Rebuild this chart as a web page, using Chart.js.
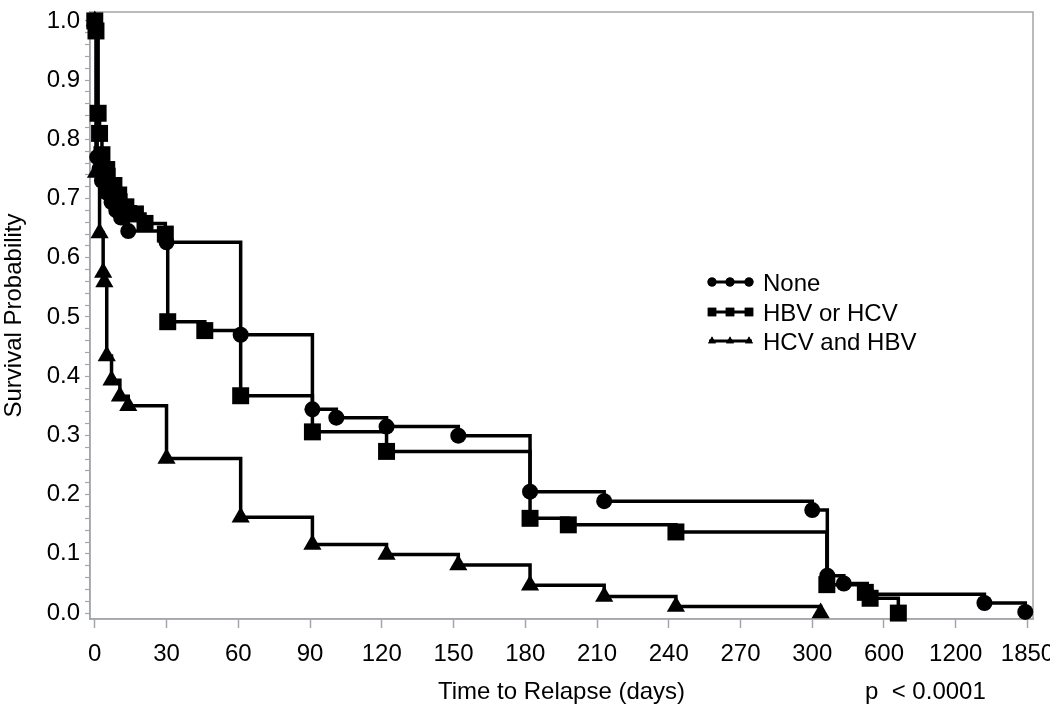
<!DOCTYPE html>
<html>
<head>
<meta charset="utf-8">
<script src="https://cdn.jsdelivr.net/npm/chart.js@4/dist/chart.umd.min.js"></script>
<style>
  html, body { margin: 0; padding: 0; background: #fff; }
  #wrap { width: 1050px; height: 721px; position: relative; }
</style>
</head>
<body>
<div id="wrap"><canvas id="c" width="1050" height="721"></canvas></div>
<script>
// ---------------- data (days, survival probability) ----------------
const seriesNames = ['None', 'HBV or HCV', 'HCV and HBV'];

const noneDays = [0, 1, 2, 3, 5, 7, 9, 11, 14, 30, 61, 91, 101, 122, 152, 182, 213, 300, 363, 432, 530, 1460, 1830];
const noneSurv = [1.0, 0.77, 0.75, 0.73, 0.71, 0.694, 0.68, 0.668, 0.645, 0.626, 0.47, 0.344, 0.33, 0.315, 0.2995, 0.205, 0.189, 0.174, 0.063, 0.05, 0.032, 0.017, 0.002];

const hbvDays = [0, 0.5, 1.4, 2, 3, 5, 8, 10, 13, 17, 21, 29.5, 30.5, 46, 61, 91, 122, 182, 198, 243, 361, 522, 542, 720];
const hbvSurv = [1.0, 0.983, 0.844, 0.81, 0.774, 0.749, 0.722, 0.706, 0.686, 0.674, 0.658, 0.64, 0.492, 0.477, 0.367, 0.306, 0.273, 0.16, 0.149, 0.137, 0.048, 0.035, 0.025, 0.0];

const bothDays = [0, 0.5, 2, 3.5, 4, 5, 7, 10.5, 14, 30, 61, 91, 122, 152, 182, 213, 243, 335];
const bothSurv = [1.0, 0.744, 0.642, 0.575, 0.559, 0.434, 0.393, 0.366, 0.35, 0.261, 0.162, 0.116, 0.099, 0.081, 0.047, 0.028, 0.011, 0.0];

const xTickValues = [0, 30, 60, 90, 120, 150, 180, 210, 240, 270, 300, 600, 1200, 1850];
const yTickValues = [0.0, 0.1, 0.2, 0.3, 0.4, 0.5, 0.6, 0.7, 0.8, 0.9, 1.0];

const xTitle = 'Time to Relapse (days)';
const yTitle = 'Survival Probability';
const pText = 'p  < 0.0001';

// ---------------- piecewise (broken) x scale ----------------
function toPos(v) {
  const t = xTickValues;
  if (v <= t[0]) return (v - t[0]) / (t[1] - t[0]);
  for (let i = 1; i < t.length; i++) {
    if (v <= t[i]) return (i - 1) + (v - t[i - 1]) / (t[i] - t[i - 1]);
  }
  const n = t.length - 1;
  return n + (v - t[n]) / (t[n] - t[n - 1]);
}
function fromPos(p) {
  const t = xTickValues, n = t.length - 1;
  if (p <= 0) return t[0] + p * (t[1] - t[0]);
  if (p >= n) return t[n] + (p - n) * (t[n] - t[n - 1]);
  const i = Math.floor(p);
  return t[i] + (p - i) * (t[i + 1] - t[i]);
}

class BrokenScale extends Chart.LinearScale {
  buildTicks() {
    return xTickValues.map(v => ({ value: v }));
  }
  getPixelForValue(value) {
    if (value === null || value === undefined || isNaN(value)) return NaN;
    const a = toPos(this.min), b = toPos(this.max);
    return this.getPixelForDecimal((toPos(value) - a) / (b - a));
  }
  getValueForPixel(pixel) {
    const a = toPos(this.min), b = toPos(this.max);
    return fromPos(a + this.getDecimalForPixel(pixel) * (b - a));
  }
}
BrokenScale.id = 'broken';
BrokenScale.defaults = Chart.LinearScale.defaults;
Chart.register(BrokenScale);

// ---------------- styling ----------------
const FONT = "'Liberation Sans', Arial, Helvetica, sans-serif";
const AXIS = '#a2a6aa';
Chart.defaults.font.family = FONT;
Chart.defaults.font.size = 24;
Chart.defaults.color = '#000';

function pts(days, surv) { return days.map((d, i) => ({ x: d, y: surv[i] })); }

const styles = [
  { pointStyle: 'circle', radius: 8 },
  { pointStyle: 'rect', radius: 12 },
  { pointStyle: 'triangle', radius: 10.5 }
];

const datasets = [
  { label: seriesNames[0], data: pts(noneDays, noneSurv) },
  { label: seriesNames[1], data: pts(hbvDays, hbvSurv) },
  { label: seriesNames[2], data: pts(bothDays, bothSurv) }
].map((d, i) => Object.assign(d, {
  borderColor: '#000',
  backgroundColor: '#000',
  borderWidth: 3.5,
  stepped: 'before',
  pointStyle: styles[i].pointStyle,
  pointRadius: styles[i].radius,
  pointBorderWidth: 0,
  pointHoverRadius: styles[i].radius,
  pointBackgroundColor: '#000',
  fill: false,
  clip: false
}));

const overlay = {
  id: 'overlay',
  beforeDatasetsDraw(chart) {
    const { ctx, chartArea: a } = chart;
    ctx.save();
    ctx.strokeStyle = AXIS;
    ctx.lineWidth = 1.5;
    ctx.strokeRect(a.left, a.top, a.right - a.left, a.bottom - a.top);
    ctx.restore();
  },
  afterDraw(chart) {
    const { ctx, chartArea: a } = chart;
    ctx.save();
    ctx.fillStyle = '#000';
    ctx.font = '24px ' + FONT;
    ctx.textBaseline = 'middle';
    // x title
    ctx.textAlign = 'center';
    ctx.fillText(xTitle, (a.left + a.right) / 2, 692);
    // p-value
    ctx.textAlign = 'left';
    ctx.fillText(pText, 865, 692);
    // y title
    ctx.save();
    ctx.translate(14, (a.top + a.bottom) / 2);
    ctx.rotate(-Math.PI / 2);
    ctx.textAlign = 'center';
    ctx.fillText(yTitle, 0, 0);
    ctx.restore();
    // legend
    const ly = [282, 312, 341];
    chart.data.datasets.forEach((ds, i) => {
      const y = ly[i];
      ctx.strokeStyle = '#000';
      ctx.lineWidth = 3;
      ctx.beginPath();
      ctx.moveTo(709, y);
      ctx.lineTo(752, y);
      ctx.stroke();
      [712, 730, 749].forEach(x => {
        Chart.helpers.drawPoint(ctx, { pointStyle: ds.pointStyle, radius: ds.pointStyle === 'rect' ? 6 : 4.5, rotation: 0, borderWidth: 0 }, x, y);
        ctx.fillStyle = '#000';
        ctx.fill();
      });
      ctx.fillStyle = '#000';
      ctx.textAlign = 'left';
      ctx.fillText(ds.label, 763, y + 2);
    });
    ctx.restore();
  }
};

new Chart(document.getElementById('c'), {
  type: 'line',
  data: { datasets },
  options: {
    responsive: false,
    animation: false,
    events: [],
    layout: { padding: { top: 2, right: 17, left: 0, bottom: 0 } },
    plugins: { legend: { display: false }, tooltip: { enabled: false } },
    scales: {
      x: {
        type: 'broken',
        min: -2,
        max: 1900,
        border: { display: true, color: AXIS, width: 1.5 },
        grid: { display: true, drawOnChartArea: false, drawTicks: true, tickLength: 9, tickColor: AXIS, tickWidth: 1.5 },
        ticks: {
          autoSkip: false, maxRotation: 0, minRotation: 0, padding: 12,
          font: { size: 24 }, color: '#000',
          callback: (v) => String(v)
        },
        afterFit(s) { s.height = 102; s.paddingLeft = 0; s.paddingRight = 0; }
      },
      y: {
        type: 'linear',
        min: -0.01,
        max: 1.015,
        border: { display: true, color: AXIS, width: 1.5 },
        grid: { display: true, drawOnChartArea: false, drawTicks: true, tickLength: 5, tickColor: AXIS, tickWidth: 1.2 },
        afterBuildTicks(s) {
          const t = [];
          for (let i = 0; i <= 50; i++) t.push({ value: i / 50 });
          s.ticks = t;
        },
        ticks: {
          autoSkip: false,
          padding: 5, font: { size: 24 }, color: '#000',
          callback: (v) => {
            const m = yTickValues.find(y => Math.abs(y - v) < 1e-9);
            return m === undefined ? '' : m.toFixed(1);
          }
        },
        afterFit(s) { s.width = 90; s.paddingTop = 0; s.paddingBottom = 0; }
      }
    }
  },
  plugins: [overlay]
});
</script>
</body>
</html>
